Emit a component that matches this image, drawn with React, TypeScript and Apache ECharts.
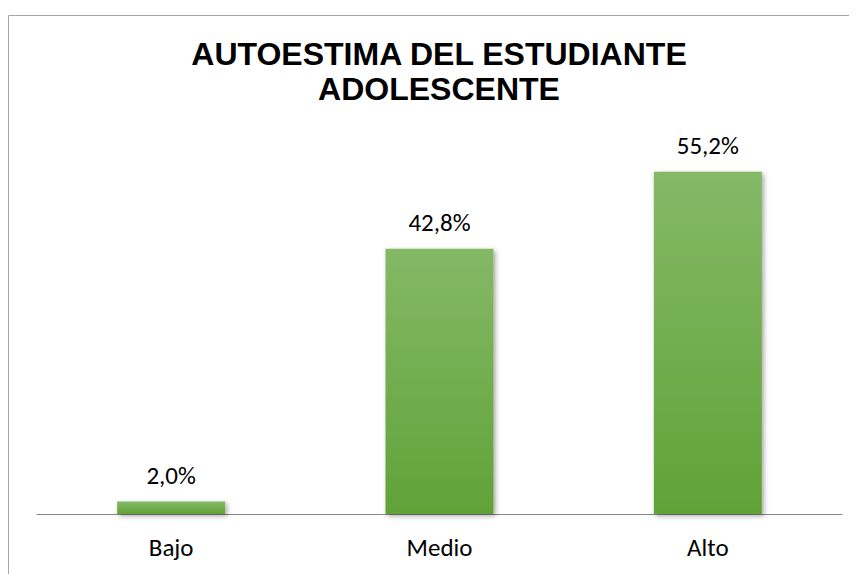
import React, { useEffect, useRef } from "react";
import * as echarts from "echarts";

const categories = ["Bajo", "Medio", "Alto"];
const values = [2.0, 42.8, 55.2];
const titleLines = ["AUTOESTIMA DEL ESTUDIANTE", "ADOLESCENTE"];

export default function App() {
  const ref = useRef<HTMLDivElement>(null);
  useEffect(() => {
    if (!ref.current) return;
    const chart = echarts.init(ref.current, undefined, { renderer: "svg" });
    const labelFont = "Calibri, Carlito, Lato, sans-serif";
    chart.setOption({
      animation: false,
      backgroundColor: "#ffffff",
      graphic: [
        {
          type: "rect",
          shape: { x: 0.5, y: 7.5, width: 1000, height: 1000 },
          style: { fill: "none", stroke: "#a6a6a6", lineWidth: 1 },
          silent: true,
          z: -1,
        },
        {
          type: "text",
          x: 431,
          y: 63,
          style: {
            text: titleLines.join("\n"),
            font: "bold 32px 'Liberation Sans', Arial, sans-serif",
            lineHeight: 35,
            fill: "#000000",
            textAlign: "center",
            textVerticalAlign: "middle",
          },
        },
      ],
      grid: { left: 29, right: 15, top: 134, bottom: 60, containLabel: false },
      xAxis: {
        type: "category",
        data: categories,
        axisLine: { show: true, lineStyle: { color: "#868686", width: 1 } },
        axisTick: { show: false },
        axisLabel: {
          color: "#000000",
          fontFamily: labelFont,
          fontSize: 25,
          margin: 21,
        },
      },
      yAxis: {
        type: "value",
        min: 0,
        max: 60,
        show: false,
        splitLine: { show: false },
      },
      series: [
        {
          type: "bar",
          data: values,
          barWidth: 108,
          itemStyle: {
            color: new echarts.graphic.LinearGradient(0, 0, 0, 1, [
              { offset: 0, color: "#84b966" },
              { offset: 1, color: "#61a238" },
            ]),
            shadowBlur: 5,
            shadowOffsetX: 2,
            shadowOffsetY: 2,
            shadowColor: "rgba(0,0,0,0.35)",
          },
          label: {
            show: true,
            position: "top",
            distance: 14,
            color: "#000000",
            fontFamily: labelFont,
            fontSize: 25,
            formatter: (p: any) => p.value.toFixed(1).replace(".", ",") + "%",
          },
        },
      ],
    });
    return () => chart.dispose();
  }, []);
  return <div ref={ref} style={{ width: 849, height: 566 }} />;
}
